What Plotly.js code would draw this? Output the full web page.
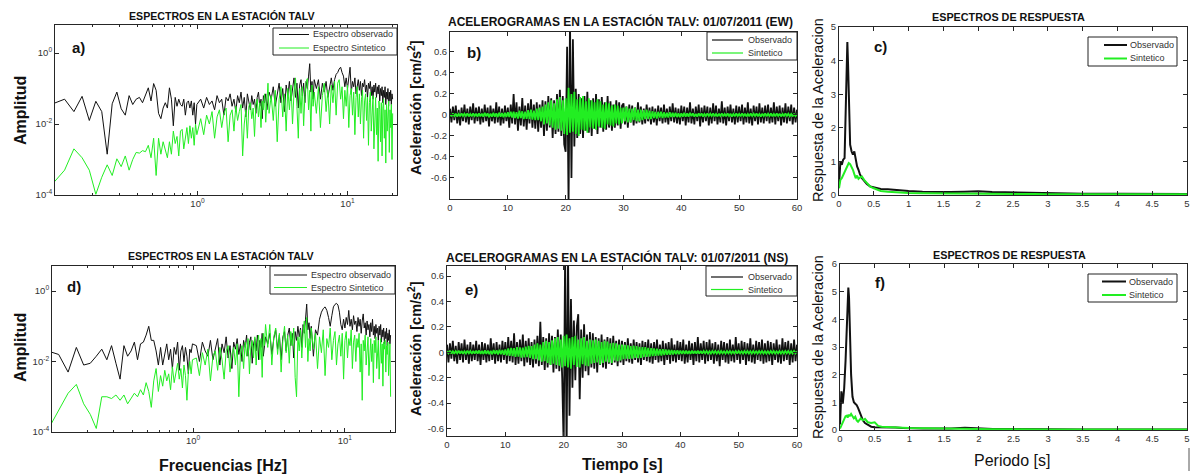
<!DOCTYPE html>
<html><head><meta charset="utf-8">
<script src="https://cdn.plot.ly/plotly-3.0.1.min.js"></script>
<style>html,body{margin:0;padding:0;background:#fff;}#chart{width:1192px;height:474px;}</style>
</head><body><div id="chart"></div>
<script>
// ---------------- DATA ----------------
// Fourier spectra: frequencies [Hz]
const freqHz = [
 0.11,0.13,0.15,0.17,0.19,0.21,0.23,0.25,0.27,0.29,
 0.31,0.33,0.35,0.37,0.39,0.41,0.43,0.45,0.47,0.49,
 0.51,0.53,0.55,0.57,0.59,0.61,0.63,0.65,0.67,0.69,
 0.71,0.73,0.75,0.77,0.79,0.81,0.83,0.85,0.87,0.89,
 0.91,0.93,0.95,0.97,0.99,
 1.05,1.10,1.15,1.20,1.25,1.30,1.35,1.40,1.45,1.50,
 1.55,1.60,1.65,1.70,1.75,1.80,1.85,1.90,1.95,2.00,
 2.05,2.10,2.15,2.20,2.25,2.30,2.35,2.40,2.45,2.50,
 2.55,2.60,2.65,2.70,2.75,2.80,2.85,2.90,2.95,3.00,
 3.1,3.2,3.3,3.4,3.5,3.6,3.7,3.8,3.9,4.0,
 4.1,4.2,4.3,4.4,4.5,4.6,4.7,4.8,4.9,5.0,
 5.1,5.2,5.3,5.4,5.5,5.6,5.7,5.8,5.9,6.0,
 6.2,6.4,6.6,6.8,7.0,7.2,7.4,7.6,7.8,8.0,
 8.2,8.4,8.6,8.8,9.0,9.2,9.4,9.6,9.8,10.0,
 10.2,10.4,10.6,10.8,11.0,11.2,11.4,11.6,11.8,12.0,
 12.2,12.4,12.6,12.8,13.0,13.2,13.4,13.6,13.8,14.0,
 14.2,14.4,14.6,14.8,15.0,15.2,15.4,15.6,15.8,16.0,
 16.2,16.4,16.6,16.8,17.0,17.2,17.4,17.6,17.8,18.0,
 18.2,18.4,18.6,18.8,19.0,19.2,19.4,19.6,19.8,20.0
];
// amplitudes as log10(Amplitud)
const specObsEW_log10 = [
 -1.42,-1.30,-1.65,-1.22,-1.90,-1.36,-1.65,-2.85,-1.43,-1.10,
 -1.57,-1.75,-1.20,-1.45,-1.30,-1.25,-1.40,-1.20,-0.98,-1.35,
 -0.86,-1.05,-1.70,-1.85,-1.55,-1.40,-1.55,-0.98,-1.30,-2.05,
 -1.25,-1.50,-1.30,-1.45,-1.50,-1.30,-1.75,-1.40,-1.35,-1.55,
 -1.35,-1.75,-1.40,-2.00,-1.45,
 -1.30,-1.55,-1.25,-1.45,-1.35,-1.60,-1.20,-1.40,-1.30,-1.75,
 -1.25,-1.35,-1.15,-1.50,-1.30,-1.65,-1.20,-1.40,-1.10,-1.55,
 -1.25,-1.80,-1.15,-1.35,-1.60,-1.20,-1.45,-1.30,-1.70,-1.25,
 -1.10,-1.50,-1.30,-1.85,-1.20,-1.40,-1.15,-1.60,-1.25,-1.10,
 -1.30,-0.95,-1.50,-1.10,-0.85,-1.40,-1.00,-1.65,-0.90,-1.20,
 -0.80,-1.35,-0.95,-0.70,-1.25,-0.85,-1.55,-0.90,-0.75,-1.20,
 -0.85,-1.40,-0.80,-1.00,-0.65,-0.30,-1.10,-0.80,-1.30,-0.75,
 -1.00,-0.75,-1.30,-0.85,-1.10,-0.80,-1.25,-0.90,-0.70,-1.05,
 -0.75,-0.60,-0.55,-0.45,-0.40,-0.55,-0.65,-0.95,-0.70,-1.00,
 -0.75,-0.40,-1.10,-0.80,-0.95,-0.70,-1.15,-0.85,-0.75,-1.05,
 -0.80,-1.20,-0.85,-0.95,-0.75,-1.10,-0.90,-1.25,-0.85,-1.00,
 -0.80,-1.20,-0.95,-1.30,-0.90,-1.10,-0.85,-1.25,-0.95,-1.15,
 -0.90,-1.35,-1.00,-1.20,-0.95,-1.40,-1.05,-1.25,-0.95,-1.45,
 -1.10,-1.30,-1.00,-1.50,-1.10,-1.35,-1.05,-1.45,-1.15,-1.30
];
const specSynEW_log10 = [
 -3.65,-3.30,-2.70,-2.95,-3.30,-3.98,-3.50,-3.15,-3.45,-2.98,
 -3.20,-2.90,-3.30,-3.00,-2.80,-2.82,-2.75,-2.78,-2.60,-2.95,
 -2.40,-3.45,-2.40,-2.85,-2.50,-2.70,-2.95,-2.50,-2.85,-2.20,
 -2.55,-2.35,-2.90,-2.20,-2.15,-2.70,-2.30,-2.10,-2.55,-2.05,
 -2.40,-2.10,-2.60,-2.00,-2.30,
 -1.85,-2.30,-1.75,-2.00,-1.65,-2.40,-1.80,-1.60,-2.10,-1.70,
 -1.55,-2.50,-1.75,-1.60,-2.20,-1.50,-1.90,-1.65,-1.45,-2.90,
 -2.00,-1.60,-2.40,-1.50,-1.40,-1.85,-1.55,-2.35,-1.45,-1.30,
 -1.80,-1.40,-2.10,-1.35,-1.60,-1.15,-1.95,-1.40,-0.85,-1.70,
 -1.20,-1.90,-1.05,-2.50,-1.30,-0.95,-1.80,-1.15,-2.20,-1.00,
 -1.60,-0.90,-2.00,-1.10,-0.70,-1.50,-2.40,-1.00,-1.70,-0.95,
 -2.05,-1.20,-0.80,-0.72,-1.60,-1.05,-2.20,-0.90,-1.50,-1.10,
 -1.70,-0.95,-2.10,-1.20,-0.85,-1.65,-1.05,-2.00,-0.90,-1.40,
 -0.80,-1.75,-0.85,-0.75,-1.30,-0.95,-1.85,-1.05,-1.50,-0.90,
 -2.10,-1.20,-1.00,-1.75,-1.10,-2.30,-1.25,-0.95,-1.80,-1.15,
 -2.00,-1.30,-1.05,-2.40,-1.35,-1.15,-1.90,-1.25,-2.60,-1.40,
 -1.10,-2.20,-1.45,-1.20,-2.70,-1.50,-1.25,-2.30,-1.55,-3.05,
 -1.35,-1.60,-2.50,-1.40,-2.90,-1.55,-1.30,-2.40,-1.60,-3.10,
 -1.45,-2.20,-1.70,-1.35,-2.80,-1.60,-2.10,-1.45,-3.00,-1.70
];
const specObsNS_log10 = [
 -1.70,-1.80,-2.30,-1.60,-2.10,-2.05,-1.85,-1.65,-1.95,-1.55,
 -2.05,-2.50,-1.55,-1.85,-1.70,-1.45,-1.95,-1.50,-1.45,-1.25,
 -1.00,-1.40,-1.40,-1.70,-2.10,-1.60,-2.10,-1.75,-1.50,-1.95,
 -1.65,-2.20,-1.60,-1.80,-1.45,-2.25,-1.70,-1.55,-2.00,-1.60,
 -1.85,-2.35,-1.65,-1.75,-1.50,
 -1.55,-2.00,-1.45,-1.70,-1.85,-1.40,-1.95,-1.60,-1.35,-2.10,
 -1.50,-1.75,-1.30,-1.90,-1.55,-2.20,-1.45,-1.65,-1.35,-1.80,
 -1.50,-2.00,-1.40,-1.60,-1.25,-1.85,-1.45,-1.30,-2.05,-1.50,
 -1.35,-1.70,-1.25,-1.95,-1.40,-1.60,-1.20,-1.85,-1.45,-1.30,
 -1.50,-1.20,-1.80,-1.35,-1.10,-1.65,-1.25,-1.95,-1.30,-1.15,
 -1.70,-1.25,-1.05,-1.55,-1.20,-1.90,-1.15,-1.40,-1.00,-1.30,
 -1.05,-1.60,-0.95,-1.20,-0.80,-0.37,-1.10,-0.90,-1.35,-1.00,
 -1.85,-1.10,-1.25,-0.80,-0.60,-0.50,-0.45,-0.55,-0.75,-1.00,
 -0.70,-0.45,-0.38,-0.35,-0.40,-0.60,-0.95,-1.10,-0.80,-1.05,
 -0.75,-0.95,-0.55,-1.00,-0.80,-1.10,-0.70,-0.95,-0.85,-1.15,
 -0.75,-1.00,-0.80,-1.20,-0.85,-0.65,-1.05,-0.90,-1.25,-0.85,
 -1.10,-0.95,-1.30,-0.90,-1.15,-0.80,-1.25,-1.00,-1.35,-0.95,
 -1.20,-1.05,-1.40,-1.00,-1.25,-0.95,-1.45,-1.10,-1.30,-1.05,
 -1.50,-1.15,-1.35,-1.05,-1.55,-1.20,-1.40,-1.10,-1.50,-1.25
];
const specSynNS_log10 = [
 -3.95,-3.40,-2.90,-2.65,-3.20,-3.50,-3.90,-3.00,-3.00,-3.05,
 -2.95,-3.10,-2.95,-3.20,-3.05,-2.90,-3.00,-2.80,-2.95,-2.60,
 -2.85,-3.30,-2.55,-2.20,-2.85,-2.40,-2.70,-2.25,-2.55,-2.35,
 -2.80,-2.15,-2.60,-2.30,-2.05,-2.50,-2.20,-2.75,-2.10,-2.40,
 -3.10,-2.30,-2.00,-2.35,-1.95,
 -1.90,-2.40,-1.75,-2.10,-1.65,-2.55,-1.85,-1.70,-2.25,-1.60,
 -1.95,-2.50,-1.70,-1.55,-2.30,-1.80,-1.60,-2.10,-1.50,-3.00,
 -1.75,-1.55,-2.20,-1.45,-1.85,-1.35,-2.35,-1.60,-1.40,-1.90,
 -1.30,-2.10,-1.50,-1.25,-1.95,-1.35,-2.45,-1.20,-1.55,-0.95,
 -1.60,-0.95,-2.10,-1.30,-1.05,-1.80,-1.20,-2.30,-1.40,-1.00,
 -1.75,-1.25,-2.05,-1.15,-1.55,-1.05,-2.45,-3.00,-1.30,-1.70,
 -1.10,-1.90,-1.20,-0.85,-1.60,-0.75,-2.00,-1.35,-1.70,-1.05,
 -1.65,-1.20,-2.20,-1.30,-1.75,-1.10,-2.40,-1.35,-1.60,-1.05,
 -1.95,-1.40,-1.15,-2.10,-1.50,-1.25,-1.85,-1.20,-2.50,-1.40,
 -1.15,-1.90,-1.35,-1.55,-1.10,-2.20,-1.45,-1.25,-2.00,-1.35,
 -1.60,-1.20,-2.30,-1.50,-3.10,-1.40,-1.70,-1.25,-2.10,-1.45,
 -1.30,-2.40,-1.55,-1.35,-2.00,-1.50,-2.60,-1.40,-1.75,-1.30,
 -2.20,-1.55,-1.40,-2.50,-1.60,-1.35,-2.05,-1.50,-2.70,-1.45,
 -1.65,-1.40,-2.30,-1.55,-1.80,-1.45,-2.40,-1.60,-1.50,-3.00
];

// Accelerograms [cm/s2], sampled every 0.25 s from 0 to 60 s
const T_START = 0, T_STEP = 0.25;
const accObsEW = [
 0.06,-0.07,0.08,-0.05,0.09,-0.08,0.05,-0.10,0.07,-0.06,0.10,-0.07,0.06,-0.09,0.08,-0.05,0.11,-0.08,0.07,-0.06,
 0.08,-0.09,0.06,-0.07,0.10,-0.06,0.07,-0.11,0.09,-0.06,0.06,-0.08,0.12,-0.07,0.08,-0.10,0.06,-0.08,0.09,-0.06,
 0.07,-0.12,0.10,-0.08,0.20,-0.09,0.12,-0.15,0.08,-0.10,0.16,-0.11,0.09,-0.14,0.11,-0.08,0.15,-0.12,0.10,-0.13,
 0.12,-0.16,0.10,-0.12,0.14,-0.20,0.13,-0.15,0.18,-0.12,0.16,-0.22,0.14,-0.18,0.20,-0.16,0.24,-0.20,0.18,-0.28,
 -0.35,0.65,-0.85,0.90,-0.60,0.72,-0.30,0.25,-0.22,0.20,-0.18,0.16,-0.22,0.18,-0.15,0.22,-0.17,0.14,-0.20,0.16,
 -0.13,0.20,-0.18,0.15,-0.12,0.17,-0.16,0.12,-0.14,0.18,-0.12,0.13,-0.15,0.10,-0.12,0.14,-0.10,0.12,-0.13,0.09,
 0.11,-0.09,0.08,-0.12,0.10,-0.07,0.09,-0.10,0.07,-0.08,0.12,-0.07,0.08,-0.09,0.06,-0.08,0.10,-0.06,0.07,-0.09,
 0.08,-0.07,0.06,-0.10,0.09,-0.06,0.07,-0.08,0.10,-0.07,0.06,-0.09,0.08,-0.06,0.11,-0.07,0.07,-0.08,0.06,-0.09,
 0.09,-0.06,0.08,-0.10,0.07,-0.07,0.12,-0.08,0.06,-0.09,0.08,-0.06,0.10,-0.11,0.07,-0.07,0.09,-0.06,0.08,-0.10,
 0.07,-0.08,0.11,-0.06,0.09,-0.09,0.06,-0.07,0.13,-0.08,0.07,-0.10,0.08,-0.06,0.10,-0.07,0.06,-0.09,0.09,-0.07,
 0.08,-0.06,0.10,-0.09,0.07,-0.07,0.12,-0.08,0.06,-0.10,0.09,-0.06,0.08,-0.09,0.11,-0.07,0.07,-0.08,0.09,-0.06,
 0.10,-0.08,0.07,-0.07,0.12,-0.09,0.08,-0.06,0.09,-0.10,0.07,-0.07,0.11,-0.08,0.08,-0.06,0.10,-0.09,0.07,-0.07,
 0.05
];
const accSynEW = [
 0.010,-0.012,0.015,-0.010,0.012,-0.015,0.010,-0.012,0.015,-0.010,0.012,-0.010,0.015,-0.014,0.010,-0.012,0.015,-0.010,0.012,-0.015,
 0.015,-0.012,0.012,-0.016,0.020,-0.012,0.016,-0.020,0.012,-0.016,0.020,-0.015,0.016,-0.020,0.022,-0.016,0.018,-0.022,0.020,-0.020,
 0.025,-0.020,0.030,-0.025,0.032,-0.030,0.026,-0.035,0.040,-0.030,0.035,-0.040,0.032,-0.036,0.045,-0.040,0.050,-0.045,0.042,-0.050,
 0.060,-0.050,0.070,-0.060,0.080,-0.090,0.100,-0.080,0.120,-0.100,0.140,-0.120,0.110,-0.140,0.150,-0.130,0.170,-0.150,0.140,-0.180,
 0.160,-0.190,0.260,-0.170,0.200,-0.160,0.220,-0.180,0.150,-0.200,0.170,-0.140,0.180,-0.150,0.130,-0.170,0.160,-0.120,0.140,-0.130,
 0.120,-0.140,0.150,-0.110,0.130,-0.120,0.100,-0.130,0.120,-0.090,0.110,-0.100,0.090,-0.110,0.100,-0.080,0.090,-0.090,0.070,-0.080,
 0.070,-0.060,0.080,-0.070,0.060,-0.070,0.060,-0.050,0.070,-0.060,0.050,-0.060,0.050,-0.050,0.045,-0.040,0.050,-0.040,0.040,-0.040,
 0.035,-0.030,0.030,-0.035,0.030,-0.025,0.030,-0.030,0.025,-0.025,0.020,-0.025,0.025,-0.020,0.020,-0.020,0.020,-0.020,0.015,-0.020,
 0.015,-0.015,0.020,-0.015,0.015,-0.015,0.020,-0.010,0.015,-0.015,0.010,-0.015,0.015,-0.010,0.015,-0.015,0.010,-0.010,0.015,-0.010,
 0.012,-0.010,0.015,-0.012,0.010,-0.014,0.012,-0.010,0.015,-0.012,0.010,-0.012,0.014,-0.010,0.012,-0.015,0.010,-0.012,0.014,-0.010,
 0.010,-0.012,0.015,-0.010,0.012,-0.014,0.010,-0.012,0.015,-0.010,0.012,-0.010,0.014,-0.012,0.010,-0.015,0.012,-0.010,0.014,-0.012,
 0.012,-0.010,0.014,-0.012,0.010,-0.012,0.015,-0.010,0.012,-0.014,0.010,-0.012,0.015,-0.010,0.012,-0.012,0.010,-0.014,0.012,-0.010,
 0.010
];
const accObsNS = [
 0.06,-0.08,0.07,-0.05,0.09,-0.07,0.05,-0.09,0.08,-0.06,0.07,-0.08,0.10,-0.06,0.06,-0.09,0.08,-0.07,0.06,-0.06,
 0.09,-0.07,0.06,-0.10,0.08,-0.06,0.07,-0.08,0.06,-0.07,0.11,-0.06,0.07,-0.09,0.08,-0.07,0.06,-0.08,0.09,-0.06,
 0.08,-0.09,0.12,-0.07,0.09,-0.08,0.15,-0.10,0.08,-0.09,0.10,-0.07,0.14,-0.11,0.09,-0.08,0.11,-0.10,0.08,-0.12,
 0.10,-0.09,0.13,-0.11,0.24,-0.10,0.12,-0.14,0.11,-0.12,0.15,-0.10,0.13,-0.16,0.12,-0.13,0.18,-0.15,0.14,-0.20,
 -0.75,0.80,-0.80,0.78,-0.50,0.42,-0.28,0.25,-0.22,0.20,0.30,-0.37,0.18,-0.20,0.22,-0.15,0.14,-0.18,0.16,-0.12,
 0.15,-0.13,0.12,-0.16,0.11,-0.10,0.14,-0.12,0.10,-0.13,0.12,-0.09,0.11,-0.10,0.13,-0.08,0.09,-0.11,0.10,-0.08,
 0.09,-0.10,0.08,-0.07,0.11,-0.08,0.07,-0.09,0.10,-0.06,0.08,-0.08,0.07,-0.10,0.09,-0.06,0.08,-0.07,0.10,-0.08,
 0.07,-0.09,0.08,-0.06,0.10,-0.08,0.06,-0.07,0.09,-0.10,0.07,-0.06,0.08,-0.09,0.11,-0.07,0.06,-0.08,0.09,-0.06,
 0.08,-0.07,0.10,-0.09,0.06,-0.08,0.09,-0.06,0.07,-0.10,0.08,-0.07,0.12,-0.08,0.07,-0.06,0.09,-0.09,0.08,-0.07,
 0.10,-0.06,0.07,-0.09,0.08,-0.07,0.06,-0.11,0.09,-0.06,0.08,-0.08,0.07,-0.09,0.10,-0.07,0.06,-0.08,0.12,-0.06,
 0.07,-0.09,0.09,-0.06,0.08,-0.10,0.07,-0.07,0.11,-0.08,0.06,-0.09,0.09,-0.06,0.08,-0.07,0.10,-0.09,0.07,-0.08,
 0.09,-0.07,0.08,-0.10,0.07,-0.06,0.10,-0.08,0.06,-0.09,0.11,-0.07,0.08,-0.06,0.09,-0.10,0.07,-0.08,0.10,-0.07,
 0.06
];
const accSynNS = [
 0.010,-0.008,0.012,-0.010,0.008,-0.012,0.010,-0.008,0.012,-0.010,0.010,-0.012,0.008,-0.010,0.012,-0.008,0.010,-0.012,0.010,-0.010,
 0.012,-0.010,0.014,-0.012,0.010,-0.014,0.015,-0.012,0.014,-0.015,0.012,-0.016,0.018,-0.014,0.016,-0.018,0.020,-0.016,0.018,-0.020,
 0.022,-0.025,0.030,-0.028,0.035,-0.030,0.032,-0.036,0.040,-0.035,0.038,-0.042,0.036,-0.040,0.045,-0.038,0.050,-0.045,0.048,-0.055,
 0.060,-0.055,0.070,-0.065,0.060,-0.075,0.080,-0.070,0.090,-0.085,0.080,-0.100,0.095,-0.090,0.110,-0.100,0.120,-0.105,0.100,-0.120,
 0.130,-0.110,0.140,-0.120,0.110,-0.130,0.120,-0.100,0.130,-0.115,0.100,-0.120,0.110,-0.095,0.120,-0.105,0.090,-0.110,0.100,-0.090,
 0.095,-0.085,0.100,-0.080,0.090,-0.095,0.080,-0.085,0.090,-0.075,0.085,-0.080,0.070,-0.085,0.075,-0.065,0.070,-0.070,0.060,-0.065,
 0.060,-0.055,0.058,-0.050,0.055,-0.052,0.048,-0.050,0.052,-0.045,0.048,-0.046,0.042,-0.045,0.040,-0.038,0.040,-0.036,0.035,-0.035,
 0.032,-0.030,0.030,-0.028,0.028,-0.026,0.025,-0.026,0.024,-0.022,0.022,-0.020,0.020,-0.020,0.018,-0.018,0.016,-0.016,0.015,-0.015,
 0.014,-0.012,0.014,-0.012,0.012,-0.012,0.010,-0.012,0.012,-0.010,0.010,-0.010,0.012,-0.010,0.010,-0.010,0.010,-0.008,0.010,-0.010,
 0.008,-0.010,0.010,-0.008,0.010,-0.010,0.008,-0.010,0.010,-0.008,0.008,-0.010,0.010,-0.008,0.010,-0.010,0.008,-0.008,0.010,-0.010,
 0.010,-0.008,0.008,-0.010,0.010,-0.008,0.010,-0.010,0.008,-0.010,0.010,-0.008,0.008,-0.010,0.010,-0.008,0.010,-0.010,0.008,-0.010,
 0.008,-0.010,0.010,-0.008,0.010,-0.010,0.008,-0.008,0.010,-0.010,0.008,-0.010,0.010,-0.008,0.010,-0.010,0.008,-0.010,0.010,-0.008,
 0.008
];

// Response spectra
const periodS = [0,0.02,0.04,0.06,0.08, 0.10,0.11,0.12,0.13,0.14, 0.16,0.18,0.20,0.22,0.24, 0.26,0.28,0.30,0.33,0.36,
 0.40,0.45,0.50,0.55,0.60, 0.70,0.80,0.90,1.00,1.20, 1.40,1.60,1.80,2.00,2.20, 2.40,2.60,2.80,3.00,3.50, 4.00,4.50,5.00];
const respObsEW = [0.30,1.00,0.90,1.05,1.10, 2.60,3.80,4.55,3.90,2.70, 1.50,1.30,1.20,1.30,1.05, 0.85,0.75,0.62,0.50,0.42,
 0.33,0.25,0.22,0.20,0.18, 0.17,0.15,0.13,0.12,0.10, 0.09,0.09,0.10,0.11,0.09, 0.08,0.07,0.06,0.05,0.04, 0.04,0.03,0.03];
const respSynEW = [0.20,0.45,0.50,0.60,0.70, 0.75,0.80,0.85,0.90,0.95, 0.92,0.85,0.75,0.62,0.50, 0.58,0.48,0.52,0.55,0.45,
 0.35,0.25,0.20,0.15,0.12, 0.10,0.08,0.07,0.06,0.05, 0.05,0.05,0.04,0.04,0.03, 0.03,0.03,0.03,0.02,0.02, 0.02,0.02,0.02];
const respObsNS = [0.20,1.40,0.95,1.50,2.50, 3.80,4.60,5.15,4.80,3.60, 2.00,1.20,1.00,0.95,0.90, 0.80,0.65,0.50,0.35,0.25,
 0.18,0.12,0.10,0.10,0.09, 0.08,0.09,0.07,0.06,0.05, 0.05,0.05,0.08,0.05,0.04, 0.04,0.03,0.03,0.03,0.02, 0.02,0.02,0.02];
const respSynNS = [0.05,0.15,0.30,0.40,0.50, 0.52,0.45,0.50,0.55,0.50, 0.58,0.50,0.42,0.48,0.35, 0.30,0.38,0.42,0.35,0.40,
 0.28,0.25,0.28,0.15,0.12, 0.10,0.09,0.08,0.07,0.06, 0.05,0.04,0.04,0.03,0.03, 0.03,0.02,0.02,0.02,0.02, 0.02,0.02,0.02];

// Series names and tick labels
const namesSpec = ['Espectro observado', 'Espectro Sintetico'];
const namesAcc = ['Observado', 'Sintetico'];
const logFreqTicks = [1, 10];
const logFreqTickText = ['10<sup>0</sup>', '10<sup>1</sup>'];
const logFreqMinor = [0.2,0.3,0.4,0.5,0.6,0.7,0.8,0.9,2,3,4,5,6,7,8,9,20];
const logAmpTicks = [1e-4, 1e-2, 1];
const logAmpTickText = ['10<sup>-4</sup>', '10<sup>-2</sup>', '10<sup>0</sup>'];
const accTicks = [-0.6,-0.4,-0.2,0,0.2,0.4,0.6];
const accTickText = ['-0.6','-0.4','-0.2','0','0.2','0.4','0.6'];

// ---------------- FIGURE ----------------
const W = 1192, H = 474;
const px = x => x / W, py = y => 1 - y / H;
const BLACK = '#111111', GREEN = '#22ee22';
const FONT = 'Liberation Sans, Arial, sans-serif';
const pow10 = a => a.map(v => Math.pow(10, v));

function line(x, y, ax, name, color, width, extra) {
  const t = {type: 'scatter', mode: 'lines', y: y, xaxis: ax[0], yaxis: ax[1], name: name, showlegend: false,
    line: {color: color, width: width}, hoverinfo: 'skip'};
  if (x) t.x = x;
  return Object.assign(t, extra || {});
}
const tser = {x0: T_START, dx: T_STEP};

const traces = [
  line(freqHz, pow10(specObsEW_log10), ['x','y'], namesSpec[0], BLACK, 1),
  line(freqHz, pow10(specSynEW_log10), ['x','y'], namesSpec[1], GREEN, 1),
  line(null, accObsEW, ['x2','y2'], namesAcc[0], BLACK, 1.8, tser),
  line(null, accSynEW, ['x2','y2'], namesAcc[1], GREEN, 1.8, tser),
  line(periodS, respObsEW, ['x3','y3'], namesAcc[0], BLACK, 2),
  line(periodS, respSynEW, ['x3','y3'], namesAcc[1], GREEN, 2),
  line(freqHz, pow10(specObsNS_log10), ['x4','y4'], namesSpec[0], BLACK, 1),
  line(freqHz, pow10(specSynNS_log10), ['x4','y4'], namesSpec[1], GREEN, 1),
  line(null, accObsNS, ['x5','y5'], namesAcc[0], BLACK, 1.8, tser),
  line(null, accSynNS, ['x5','y5'], namesAcc[1], GREEN, 1.8, tser),
  line(periodS, respObsNS, ['x6','y6'], namesAcc[0], BLACK, 2),
  line(periodS, respSynNS, ['x6','y6'], namesAcc[1], GREEN, 2)
];

const axBase = {showline: true, linecolor: '#262626', linewidth: 1, mirror: 'ticks', ticks: 'inside', ticklen: 4,
  tickcolor: '#262626', showgrid: false, zeroline: false, fixedrange: true,
  tickfont: {family: FONT, size: 9.5, color: '#333'}};
const ax = o => Object.assign({}, axBase, o);
const logX = (dom, anchor, range) => ax({domain: dom, anchor: anchor, type: 'log', range: range,
  tickmode: 'array', tickvals: logFreqTicks, ticktext: logFreqTickText,
  minor: {ticks: 'inside', ticklen: 2, tickcolor: '#262626', tickmode: 'array', tickvals: logFreqMinor}});
const logY = (dom, anchor, range) => ax({domain: dom, anchor: anchor, type: 'log', range: range,
  tickmode: 'array', tickvals: logAmpTicks, ticktext: logAmpTickText});

const ann = (text, x, y, size, extra) => Object.assign({text: text, x: px(x), y: py(y), xref: 'paper', yref: 'paper',
  showarrow: false, xanchor: 'center', yanchor: 'middle', font: {family: FONT, size: size, color: '#111'}}, extra || {});
const NARROW = 'Liberation Sans Narrow, Liberation Sans, Arial, sans-serif';

// Legend boxes (MATLAB style): box, line samples and labels
const shapes = [];
const legendAnns = [];
function legendBox(b, names, widths) {
  shapes.push({type: 'rect', xref: 'paper', yref: 'paper', x0: px(b.x0), x1: px(b.x1), y0: py(b.y1), y1: py(b.y0),
    fillcolor: '#ffffff', line: {color: '#222', width: 1}, layer: 'above'});
  [BLACK, GREEN].forEach((c, i) => {
    shapes.push({type: 'line', xref: 'paper', yref: 'paper', x0: px(b.lx0), x1: px(b.lx1), y0: py(b.ty[i]), y1: py(b.ty[i]),
      line: {color: c, width: widths}, layer: 'above'});
    legendAnns.push({text: names[i], x: px(b.tx), y: py(b.ty[i]), xref: 'paper', yref: 'paper', showarrow: false,
      xanchor: 'left', yanchor: 'middle', font: {family: FONT, size: b.fs || 9, color: '#333'}});
  });
}
legendBox({x0: 273, x1: 397, y0: 28, y1: 55, lx0: 279, lx1: 309, ty: [34.5, 48], tx: 311, fs: 9}, namesSpec, 1);
legendBox({x0: 707, x1: 797, y0: 32, y1: 60, lx0: 712, lx1: 743, ty: [40, 53], tx: 746}, namesAcc, 1.2);
legendBox({x0: 1088, x1: 1177, y0: 37, y1: 66, lx0: 1104, lx1: 1127, ty: [45, 58.5], tx: 1128}, namesAcc, 2);
legendBox({x0: 270, x1: 395, y0: 266, y1: 294, lx0: 274, lx1: 307, ty: [275, 287.5], tx: 309, fs: 9}, namesSpec, 1);
legendBox({x0: 706, x1: 797, y0: 266, y1: 296, lx0: 711, lx1: 743, ty: [277, 289.5], tx: 746}, namesAcc, 1.2);
legendBox({x0: 1088, x1: 1177, y0: 274, y1: 302, lx0: 1102, lx1: 1126, ty: [281.5, 295], tx: 1127}, namesAcc, 2);
shapes.push({type: 'line', xref: 'paper', yref: 'paper', x0: px(1189), x1: px(1189), y0: py(448), y1: py(471), line: {color: '#555', width: 1}});

const labelFont = {family: NARROW, size: 15, color: '#111'};
const layout = {
  width: W, height: H, margin: {l: 0, r: 0, t: 0, b: 0}, paper_bgcolor: '#fff', plot_bgcolor: '#fff',
  showlegend: false,
  xaxis:  logX([px(55), px(397)], 'y', [-0.95, 1.33]),
  yaxis:  logY([py(195), py(25)], 'x', [-4, 0.79]),
  xaxis2: ax({domain: [px(450), px(797)], anchor: 'y2', range: [0, 60], dtick: 10, tick0: 0}),
  yaxis2: ax({domain: [py(199), py(32)], anchor: 'x2', range: [-0.8, 0.79], tickmode: 'array', tickvals: accTicks, ticktext: accTickText}),
  xaxis3: ax({domain: [px(839), px(1187)], anchor: 'y3', range: [0, 5], dtick: 0.5, tick0: 0}),
  yaxis3: ax({domain: [py(195), py(27)], anchor: 'x3', range: [0, 5], dtick: 1, tick0: 0}),
  xaxis4: logX([px(52), px(395)], 'y4', [-0.93, 1.33]),
  yaxis4: logY([py(432), py(266)], 'x4', [-4, 0.71]),
  xaxis5: ax({domain: [px(447), px(797)], anchor: 'y5', range: [0, 60], dtick: 10, tick0: 0}),
  yaxis5: ax({domain: [py(436), py(266)], anchor: 'x5', range: [-0.66, 0.68], tickmode: 'array', tickvals: accTicks, ticktext: accTickText}),
  xaxis6: ax({domain: [px(840), px(1187)], anchor: 'y6', range: [0, 5], dtick: 0.5, tick0: 0}),
  yaxis6: ax({domain: [py(430), py(264)], anchor: 'x6', range: [0, 6], dtick: 1, tick0: 0}),
  annotations: [
    ann('<b>ESPECTROS EN LA ESTACIÓN TALV</b>', 222, 16, 10.6),
    ann('<b>ACELEROGRAMAS EN LA ESTACIÓN TALV: 01/07/2011 (EW)</b>', 620, 22, 12),
    ann('<b>ESPECTROS DE RESPUESTA</b>', 1008, 17, 10.8),
    ann('<b>ESPECTROS EN LA ESTACIÓN TALV</b>', 221, 256, 10.6),
    ann('<b>ACELEROGRAMAS EN LA ESTACIÓN TALV: 01/07/2011 (NS)</b>', 617, 257, 12),
    ann('<b>ESPECTROS DE RESPUESTA</b>', 1009, 255, 10.8),
    ann('<b>Amplitud</b>', 20, 111, 16, {textangle: -90}),
    ann('<b>Amplitud</b>', 20, 348, 16, {textangle: -90}),
    ann('<b>Aceleración [cm/s<sup>2</sup>]</b>', 415, 108, 14.5, {textangle: -90}),
    ann('<b>Aceleración [cm/s<sup>2</sup>]</b>', 415, 349, 14.5, {textangle: -90}),
    ann('Respuesta de la Aceleracion', 818, 110, 14.5, {textangle: -90}),
    ann('Respuesta de la Aceleracion', 818, 347, 14.5, {textangle: -90}),
    ann('<b>Frecuencias [Hz]</b>', 223, 465, 16),
    ann('<b>Tiempo [s]</b>', 622, 464, 16),
    ann('Periodo [s]', 1012, 460, 16),
    ann('<b>a)</b>', 78, 47, 15, {font: labelFont}),
    ann('<b>b)</b>', 474, 52, 15, {font: labelFont}),
    ann('<b>c)</b>', 881, 46, 15, {font: labelFont}),
    ann('<b>d)</b>', 74, 286, 15, {font: labelFont}),
    ann('<b>e)</b>', 471, 289, 15, {font: labelFont}),
    ann('<b>f)</b>', 880, 282, 15, {font: labelFont})
  ].concat(legendAnns),
  shapes: shapes
};

Plotly.newPlot('chart', traces, layout, {displayModeBar: false, staticPlot: true});
</script>
</body></html>
